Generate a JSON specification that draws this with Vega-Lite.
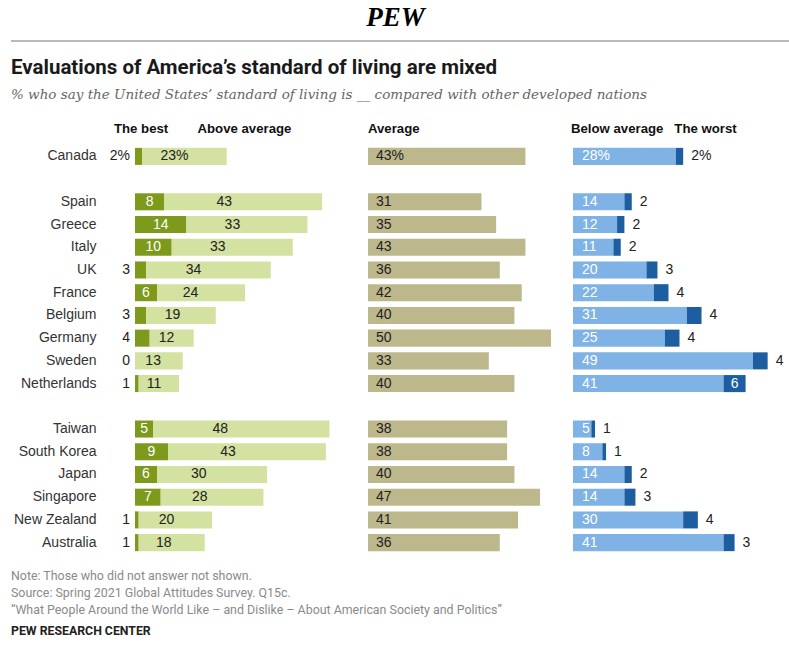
{
  "$schema": "https://vega.github.io/schema/vega-lite/v6.json",
  "padding": {"left": 10, "top": 4, "right": 0, "bottom": 0},
  "autosize": {"type": "pad"},
  "background": "white",
  "config": {
    "view": {"stroke": null},
    "font": "Liberation Sans",
    "text": {"font": "Liberation Sans", "fontSize": 14}
  },
  "datasets": {
    "d": [
      {"country": "Canada", "cat": "The best", "v": 2}, {"country": "Canada", "cat": "Above average", "v": 23}, {"country": "Canada", "cat": "Average", "v": 43}, {"country": "Canada", "cat": "Below average", "v": 28}, {"country": "Canada", "cat": "The worst", "v": 2},
      {"country": "Spain", "cat": "The best", "v": 8}, {"country": "Spain", "cat": "Above average", "v": 43}, {"country": "Spain", "cat": "Average", "v": 31}, {"country": "Spain", "cat": "Below average", "v": 14}, {"country": "Spain", "cat": "The worst", "v": 2},
      {"country": "Greece", "cat": "The best", "v": 14}, {"country": "Greece", "cat": "Above average", "v": 33}, {"country": "Greece", "cat": "Average", "v": 35}, {"country": "Greece", "cat": "Below average", "v": 12}, {"country": "Greece", "cat": "The worst", "v": 2},
      {"country": "Italy", "cat": "The best", "v": 10}, {"country": "Italy", "cat": "Above average", "v": 33}, {"country": "Italy", "cat": "Average", "v": 43}, {"country": "Italy", "cat": "Below average", "v": 11}, {"country": "Italy", "cat": "The worst", "v": 2},
      {"country": "UK", "cat": "The best", "v": 3}, {"country": "UK", "cat": "Above average", "v": 34}, {"country": "UK", "cat": "Average", "v": 36}, {"country": "UK", "cat": "Below average", "v": 20}, {"country": "UK", "cat": "The worst", "v": 3},
      {"country": "France", "cat": "The best", "v": 6}, {"country": "France", "cat": "Above average", "v": 24}, {"country": "France", "cat": "Average", "v": 42}, {"country": "France", "cat": "Below average", "v": 22}, {"country": "France", "cat": "The worst", "v": 4},
      {"country": "Belgium", "cat": "The best", "v": 3}, {"country": "Belgium", "cat": "Above average", "v": 19}, {"country": "Belgium", "cat": "Average", "v": 40}, {"country": "Belgium", "cat": "Below average", "v": 31}, {"country": "Belgium", "cat": "The worst", "v": 4},
      {"country": "Germany", "cat": "The best", "v": 4}, {"country": "Germany", "cat": "Above average", "v": 12}, {"country": "Germany", "cat": "Average", "v": 50}, {"country": "Germany", "cat": "Below average", "v": 25}, {"country": "Germany", "cat": "The worst", "v": 4},
      {"country": "Sweden", "cat": "The best", "v": 0}, {"country": "Sweden", "cat": "Above average", "v": 13}, {"country": "Sweden", "cat": "Average", "v": 33}, {"country": "Sweden", "cat": "Below average", "v": 49}, {"country": "Sweden", "cat": "The worst", "v": 4},
      {"country": "Netherlands", "cat": "The best", "v": 1}, {"country": "Netherlands", "cat": "Above average", "v": 11}, {"country": "Netherlands", "cat": "Average", "v": 40}, {"country": "Netherlands", "cat": "Below average", "v": 41}, {"country": "Netherlands", "cat": "The worst", "v": 6},
      {"country": "Taiwan", "cat": "The best", "v": 5}, {"country": "Taiwan", "cat": "Above average", "v": 48}, {"country": "Taiwan", "cat": "Average", "v": 38}, {"country": "Taiwan", "cat": "Below average", "v": 5}, {"country": "Taiwan", "cat": "The worst", "v": 1},
      {"country": "South Korea", "cat": "The best", "v": 9}, {"country": "South Korea", "cat": "Above average", "v": 43}, {"country": "South Korea", "cat": "Average", "v": 38}, {"country": "South Korea", "cat": "Below average", "v": 8}, {"country": "South Korea", "cat": "The worst", "v": 1},
      {"country": "Japan", "cat": "The best", "v": 6}, {"country": "Japan", "cat": "Above average", "v": 30}, {"country": "Japan", "cat": "Average", "v": 40}, {"country": "Japan", "cat": "Below average", "v": 14}, {"country": "Japan", "cat": "The worst", "v": 2},
      {"country": "Singapore", "cat": "The best", "v": 7}, {"country": "Singapore", "cat": "Above average", "v": 28}, {"country": "Singapore", "cat": "Average", "v": 47}, {"country": "Singapore", "cat": "Below average", "v": 14}, {"country": "Singapore", "cat": "The worst", "v": 3},
      {"country": "New Zealand", "cat": "The best", "v": 1}, {"country": "New Zealand", "cat": "Above average", "v": 20}, {"country": "New Zealand", "cat": "Average", "v": 41}, {"country": "New Zealand", "cat": "Below average", "v": 30}, {"country": "New Zealand", "cat": "The worst", "v": 4},
      {"country": "Australia", "cat": "The best", "v": 1}, {"country": "Australia", "cat": "Above average", "v": 18}, {"country": "Australia", "cat": "Average", "v": 36}, {"country": "Australia", "cat": "Below average", "v": 41}, {"country": "Australia", "cat": "The worst", "v": 3}
    ]
  },
  "spacing": 15,
  "vconcat": [
    {
      "data": {"values": [{"a": 1}]},
      "width": 655,
      "height": 1,
      "title": {"text": "PEW", "font": "Liberation Serif", "fontSize": 27, "fontWeight": "bold", "fontStyle": "italic", "color": "#000", "anchor": "middle", "frame": "group", "dx": -67, "offset": 8},
      "mark": {"type": "rule", "color": "#777", "strokeWidth": 1.2},
      "encoding": {
        "x": {"datum": -124, "type": "quantitative", "scale": {"domain": [0, 655], "nice": false, "zero": false}, "axis": null},
        "x2": {"datum": 655},
        "y": {"value": 0}
      }
    },
    {
      "data": {"name": "d"},
      "title": {
        "text": "Evaluations of America’s standard of living are mixed",
        "subtitle": "% who say the United States’ standard of living is __ compared with other developed nations",
        "anchor": "start", "frame": "group", "dx": -124, "offset": 20,
        "font": "Roboto", "fontSize": 20.5, "fontWeight": "bold", "color": "#1a1a1a",
        "subtitleFont": "DejaVu Serif", "subtitleFontStyle": "italic", "subtitleFontSize": 13.5, "subtitleColor": "#666", "subtitlePadding": 10
      },
      "spacing": 0,
      "bounds": "flush",
      "resolve": {"scale": {"color": "independent", "x": "independent", "y": "independent"}},
      "hconcat": [
        {
          "width": 233,
          "height": 409,
          "title": {"text": "The best\u00a0\u00a0\u00a0\u00a0\u00a0\u00a0\u00a0\u00a0Above average", "anchor": "start", "frame": "group", "dx": -21, "offset": 9, "fontSize": 13.2, "fontWeight": "bold", "color": "#111", "font": "Liberation Sans"},
          "transform": [{"filter": "datum.cat == 'The best' || datum.cat == 'Above average'"}],
          "encoding": {
            "y": {"field": "country", "type": "nominal", "scale": {"domain": ["Canada", " ", "Spain", "Greece", "Italy", "UK", "France", "Belgium", "Germany", "Sweden", "Netherlands", "  ", "Taiwan", "South Korea", "Japan", "Singapore", "New Zealand", "Australia"], "paddingInner": 0.25, "paddingOuter": 0.125}, "axis": {"title": null, "ticks": false, "domain": false, "labelFontSize": 14, "labelColor": "#333", "labelPadding": 39, "labelFont": "Liberation Sans"}},
            "order": {"field": "cat", "sort": "descending"},
            "detail": {"field": "cat"}
          },
          "layer": [
            {
              "mark": {"type": "bar"},
              "encoding": {
                "x": {"field": "v", "type": "quantitative", "stack": "zero", "scale": {"domain": [0, 63.5], "nice": false}, "axis": null},
                "color": {"field": "cat", "type": "nominal", "scale": {"domain": ["The best", "Above average"], "range": ["#7d9a1c", "#d3e1a1"]}, "legend": null}
              }
            },
            {
              "mark": {"type": "text", "align": "center", "baseline": "middle", "color": "white", "fontSize": 14, "text": {"expr": "datum.cat == 'The best' && datum.v >= 5 ? '' + datum.v : ''"}},
              "encoding": {"x": {"field": "v", "type": "quantitative", "stack": "zero", "bandPosition": 0.5, "scale": {"domain": [0, 63.5], "nice": false}, "axis": null}}
            },
            {
              "mark": {"type": "text", "align": "center", "baseline": "middle", "color": "#222", "fontSize": 14, "text": {"expr": "datum.cat == 'Above average' ? datum.v + (datum.country == 'Canada' ? '%' : '') : ''"}},
              "encoding": {"x": {"field": "v", "type": "quantitative", "stack": "zero", "bandPosition": 0.38, "scale": {"domain": [0, 63.5], "nice": false}, "axis": null}}
            },
            {
              "mark": {"type": "text", "align": "right", "baseline": "middle", "dx": -5, "color": "#222", "fontSize": 14, "text": {"expr": "datum.cat == 'The best' && datum.v < 5 ? datum.v + (datum.country == 'Canada' ? '%' : '') : ''"}},
              "encoding": {"x": {"field": "v", "type": "quantitative", "stack": "zero", "bandPosition": 0, "scale": {"domain": [0, 63.5], "nice": false}, "axis": null}}
            }
          ]
        },
        {
          "width": 205,
          "height": 409,
          "title": {"text": "Average", "anchor": "start", "frame": "group", "dx": 0, "offset": 9, "fontSize": 13.2, "fontWeight": "bold", "color": "#111", "font": "Liberation Sans"},
          "transform": [{"filter": "datum.cat == 'Average'"}],
          "encoding": {
            "y": {"field": "country", "type": "nominal", "scale": {"domain": ["Canada", " ", "Spain", "Greece", "Italy", "UK", "France", "Belgium", "Germany", "Sweden", "Netherlands", "  ", "Taiwan", "South Korea", "Japan", "Singapore", "New Zealand", "Australia"], "paddingInner": 0.25, "paddingOuter": 0.125}, "axis": null}
          },
          "layer": [
            {
              "mark": {"type": "bar", "color": "#bdb78c"},
              "encoding": {"x": {"field": "v", "type": "quantitative", "scale": {"domain": [0, 56], "nice": false}, "axis": null}}
            },
            {
              "mark": {"type": "text", "align": "left", "baseline": "middle", "dx": 8, "color": "#222", "fontSize": 14, "text": {"expr": "datum.v + (datum.country == 'Canada' ? '%' : '')"}},
              "encoding": {"x": {"datum": 0, "type": "quantitative", "scale": {"domain": [0, 56], "nice": false}, "axis": null}}
            }
          ]
        },
        {
          "width": 213,
          "height": 409,
          "title": {"text": "Below average\u00a0\u00a0\u00a0The worst", "anchor": "start", "frame": "group", "dx": -2, "offset": 9, "fontSize": 13.2, "fontWeight": "bold", "color": "#111", "font": "Liberation Sans"},
          "transform": [{"filter": "datum.cat == 'Below average' || datum.cat == 'The worst'"}],
          "encoding": {
            "y": {"field": "country", "type": "nominal", "scale": {"domain": ["Canada", " ", "Spain", "Greece", "Italy", "UK", "France", "Belgium", "Germany", "Sweden", "Netherlands", "  ", "Taiwan", "South Korea", "Japan", "Singapore", "New Zealand", "Australia"], "paddingInner": 0.25, "paddingOuter": 0.125}, "axis": null},
            "order": {"field": "cat", "sort": "ascending"},
            "detail": {"field": "cat"}
          },
          "layer": [
            {
              "mark": {"type": "bar"},
              "encoding": {
                "x": {"field": "v", "type": "quantitative", "stack": "zero", "scale": {"domain": [0, 58], "nice": false}, "axis": null},
                "color": {"field": "cat", "type": "nominal", "scale": {"domain": ["Below average", "The worst"], "range": ["#7fb2e5", "#1c5ea0"]}, "legend": null}
              }
            },
            {
              "mark": {"type": "text", "align": "left", "baseline": "middle", "dx": 9, "color": "white", "fontSize": 14, "text": {"expr": "datum.cat == 'Below average' ? datum.v + (datum.country == 'Canada' ? '%' : '') : ''"}},
              "encoding": {"x": {"field": "v", "type": "quantitative", "stack": "zero", "bandPosition": 0, "scale": {"domain": [0, 58], "nice": false}, "axis": null}}
            },
            {
              "mark": {"type": "text", "align": "left", "baseline": "middle", "dx": 8, "color": "#222", "fontSize": 14, "text": {"expr": "datum.cat == 'The worst' && datum.v < 5 ? datum.v + (datum.country == 'Canada' ? '%' : '') : ''"}},
              "encoding": {"x": {"field": "v", "type": "quantitative", "stack": "zero", "bandPosition": 1, "scale": {"domain": [0, 58], "nice": false}, "axis": null}}
            },
            {
              "mark": {"type": "text", "align": "center", "baseline": "middle", "color": "white", "fontSize": 14, "text": {"expr": "datum.cat == 'The worst' && datum.v >= 5 ? '' + datum.v : ''"}},
              "encoding": {"x": {"field": "v", "type": "quantitative", "stack": "zero", "bandPosition": 0.5, "scale": {"domain": [0, 58], "nice": false}, "axis": null}}
            }
          ]
        }
      ]
    },
    {
      "data": {"values": [{"a": 1}]},
      "width": 655,
      "height": 1,
      "title": {
        "text": ["Note: Those who did not answer not shown.", "Source: Spring 2021 Global Attitudes Survey. Q15c.", "“What People Around the World Like – and Dislike – About American Society and Politics”"],
        "subtitle": "PEW RESEARCH CENTER",
        "anchor": "start", "frame": "group", "dx": -124, "offset": -2,
        "font": "Roboto", "fontSize": 12.4, "fontWeight": "normal", "color": "#8a8a8a", "lineHeight": 17,
        "subtitleFont": "Roboto", "subtitleFontSize": 12.3, "subtitleFontWeight": "bold", "subtitleColor": "#222", "subtitlePadding": 9
      },
      "mark": {"type": "text", "text": ""},
      "encoding": {}
    }
  ]
}
